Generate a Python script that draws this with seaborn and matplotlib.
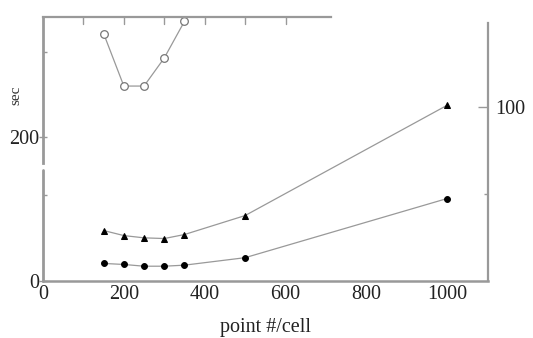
import matplotlib
matplotlib.use("Agg")
import matplotlib.pyplot as plt
import seaborn as sns
import pandas as pd
from matplotlib.lines import Line2D

sns.set_theme(style="white")
plt.rcParams['font.family'] = ['Liberation Serif', 'DejaVu Serif']

# data
points = [150, 200, 250, 300, 350, 500, 1000]
tri_vals = [29.0, 26.1, 24.8, 24.4, 26.7, 37.6, 101.0]
dot_vals = [10.1, 9.5, 8.5, 8.5, 9.1, 13.4, 47.4]
open_points = [150, 200, 250, 300, 350]
open_vals = [344, 271, 271, 310, 361]
xticks_major = [0, 200, 400, 600, 800, 1000]
xticks_minor = [100, 300, 500, 700, 900]
top_ticks = [100, 200, 300, 400, 500, 600]

W, H = 533, 338
fig = plt.figure(figsize=(W / 100, H / 100), dpi=100)
ax = fig.add_axes([43 / W, 1 - 281 / H, (488 - 43) / W, (281 - 17) / H])
ax2 = ax.twinx()

spine_c = '#999999'
line_c = '#999999'
fs = 14.5

ax.set_xlim(0, 1101)
ax.set_ylim(0, 367)
ax2.set_ylim(0, 151.7)

# open circles (left axis)
sns.lineplot(x=open_points, y=open_vals, ax=ax, color=line_c, lw=0.9,
             marker='o', markersize=5.5, markerfacecolor='white',
             markeredgecolor='#777777', markeredgewidth=0.9)
# filled series (right axis)
sns.lineplot(x=points, y=tri_vals, ax=ax2, color=line_c, lw=0.9,
             marker='^', markersize=4.5, markerfacecolor='black',
             markeredgecolor='black')
sns.lineplot(x=points, y=dot_vals, ax=ax2, color=line_c, lw=0.9,
             marker='o', markersize=4.2, markerfacecolor='black',
             markeredgecolor='black')
for a in (ax, ax2):
    for l in a.lines:
        l.set_clip_on(False)

# spines
for a in (ax, ax2):
    for s in a.spines.values():
        s.set_visible(False)
ax.spines['bottom'].set_visible(True)
ax.spines['bottom'].set_color(spine_c)
ax.spines['bottom'].set_linewidth(1.8)
ax.spines['left'].set_visible(True)
ax.spines['left'].set_color(spine_c)
ax.spines['left'].set_linewidth(2.0)
ax.spines['left'].set_bounds(164, 367)
ax.add_line(Line2D([0, 0], [0, 154], transform=ax.get_yaxis_transform(),
                   color=spine_c, lw=2.0, clip_on=False))
ax.spines['top'].set_visible(True)
ax.spines['top'].set_color(spine_c)
ax.spines['top'].set_linewidth(1.6)
ax.spines['top'].set_bounds(0, 713)
ax2.spines['right'].set_visible(True)
ax2.spines['right'].set_color(spine_c)
ax2.spines['right'].set_linewidth(1.6)
ax2.spines['right'].set_bounds(0, 148)

# x ticks
ax.set_xticks(xticks_major)
ax.set_xticks(xticks_minor, minor=True)
ax.tick_params(axis='x', which='major', direction='in', length=5, width=1,
               color=spine_c, labelsize=fs, pad=3, labelcolor='#222222')
ax.tick_params(axis='x', which='minor', direction='in', length=3, width=1,
               color=spine_c)
ax.set_xlabel('point #/cell', fontsize=fs, color='#222222', labelpad=10)

# top ticks
for t in top_ticks:
    ax.plot([t, t], [1.0, 0.975], transform=ax.get_xaxis_transform(),
            color=spine_c, lw=1, clip_on=False)

# left y ticks
ax.set_yticks([0, 200])
ax.set_yticks([120, 318], minor=True)
ax.tick_params(axis='y', which='major', direction='inout', length=6, width=1,
               color=spine_c, labelsize=fs, pad=0, labelcolor='#222222')
ax.tick_params(axis='y', which='minor', direction='in', length=3, width=1,
               color=spine_c)
fig.text(16 / W, 1 - 95 / H, 'sec', rotation=90, fontsize=11,
         ha='center', va='center', color='#333333')

# right y ticks
ax2.set_yticks([100])
ax2.set_yticks([50], minor=True)
ax2.tick_params(axis='y', which='major', direction='in', length=7, width=1,
                color=spine_c, labelsize=fs, pad=5, labelcolor='#222222')
ax2.tick_params(axis='y', which='minor', direction='in', length=3, width=1,
                color=spine_c)
ax2.set_ylabel('')

fig.savefig('out.png', dpi=100)
